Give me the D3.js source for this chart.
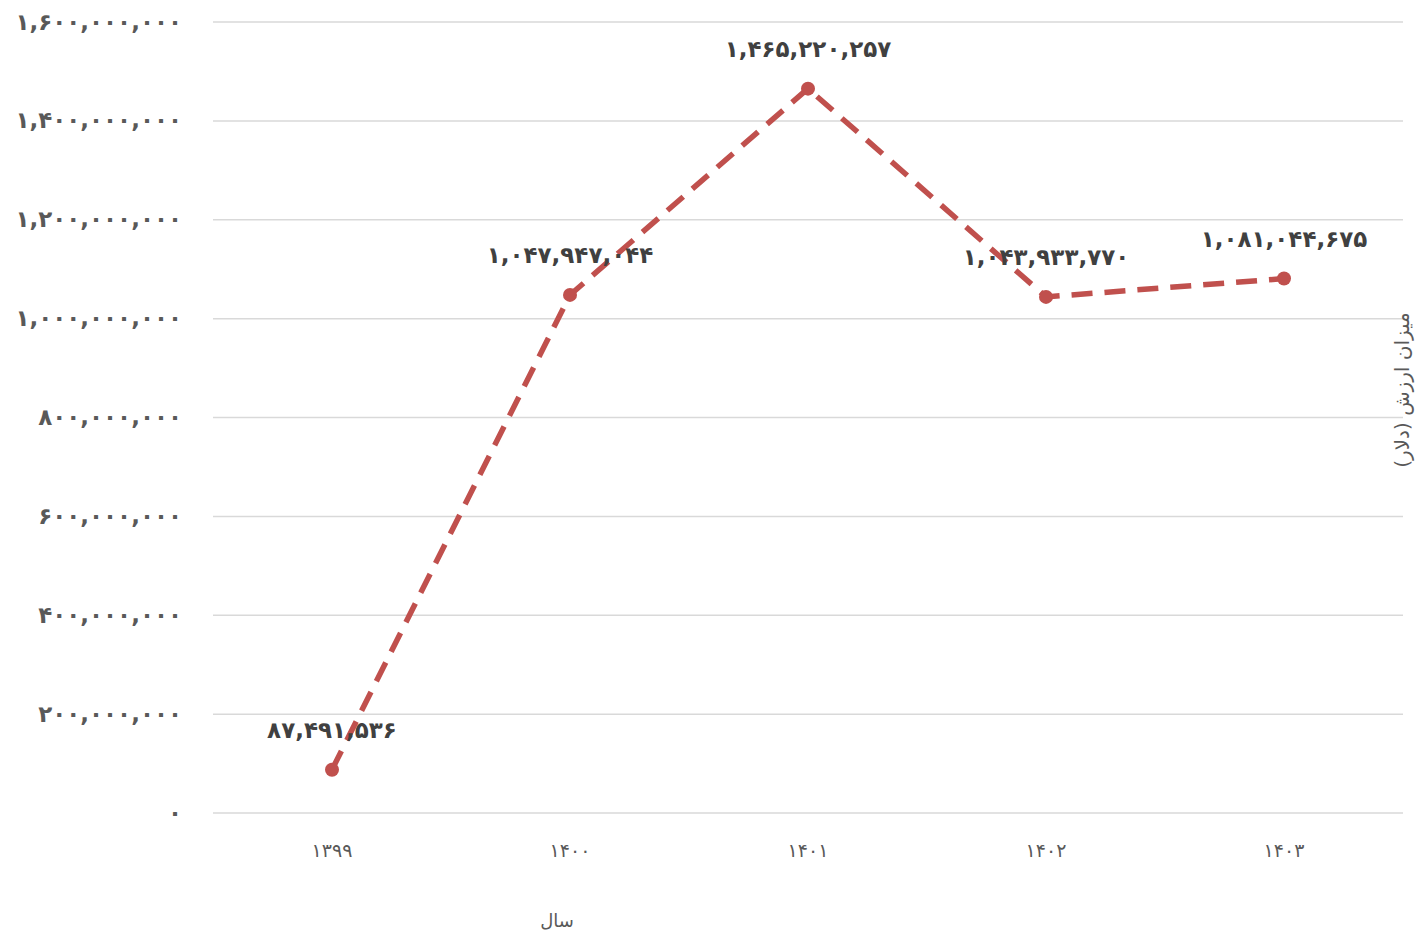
<!DOCTYPE html>
<html><head><meta charset="utf-8">
<script src="https://cdn.jsdelivr.net/npm/d3@7"></script>
<style>
html,body{margin:0;padding:0;background:#fff;}
svg{display:block;font-family:"DejaVu Sans",sans-serif;}
</style></head>
<body>
<svg id="chart" width="1415" height="937"></svg>
<script>
const years = ["1399","1400","1401","1402","1403"];
const values = [87491536, 1047947044, 1465220257, 1043933770, 1081044675];
const yTicks = [0, 200000000, 400000000, 600000000, 800000000, 1000000000, 1200000000, 1400000000, 1600000000];
const xTitle = "سال";
const yTitle = "میزان ارزش (دلار)";

(function(){
const fa = s => String(s).replace(/[0-9]/g, d => "۰۱۲۳۴۵۶۷۸۹"[+d]);
const fmt = v => fa(d3.format(",")(v));

const svg = d3.select("#chart");
const pL = 213, pR = 1403, pT = 22, pB = 813;
const x = d3.scalePoint().domain(years).range([pL, pR]).padding(0.5);
const y = d3.scaleLinear().domain([0, 1600000000]).range([pB, pT]);

svg.append("g").selectAll("line").data(yTicks).join("line")
  .attr("x1", pL).attr("x2", pR)
  .attr("y1", d => y(d)).attr("y2", d => y(d))
  .attr("stroke", "#d9d9d9").attr("stroke-width", 1.5);

svg.append("g").selectAll("text").data(yTicks).join("text")
  .attr("x", 182).attr("y", d => y(d)).attr("dy", "0.33em")
  .attr("text-anchor", "end")
  .attr("fill", "#595959").attr("font-size", 23).attr("font-weight", "bold")
  .text(d => fmt(d));

svg.append("g").selectAll("text").data(years).join("text")
  .attr("x", d => x(d)).attr("y", 850).attr("dy", "0.35em")
  .attr("text-anchor", "middle")
  .attr("fill", "#595959").attr("font-size", 19)
  .text(d => fa(d));

svg.append("text").attr("x", 557).attr("y", 921).attr("dy", "0.35em")
  .attr("text-anchor", "middle").attr("fill", "#595959").attr("font-size", 18)
  .text(xTitle);
svg.append("text")
  .attr("transform", `translate(1402,390) rotate(-90)`)
  .attr("text-anchor", "middle").attr("dy", "0.35em")
  .attr("fill", "#595959").attr("font-size", 20)
  .text(yTitle);

const data = years.map((yr, i) => ({yr, v: values[i]}));
const line = d3.line().x(d => x(d.yr)).y(d => y(d.v));
svg.append("path").datum(data).attr("d", line)
  .attr("fill", "none").attr("stroke", "#c0504d").attr("stroke-width", 5.5)
  .attr("stroke-dasharray", "21,12");

svg.append("g").selectAll("circle").data(data).join("circle")
  .attr("cx", d => x(d.yr)).attr("cy", d => y(d.v)).attr("r", 7)
  .attr("fill", "#c0504d");

svg.append("g").selectAll("text").data(data).join("text")
  .attr("x", d => x(d.yr)).attr("y", d => y(d.v) - 40).attr("dy", "0.35em")
  .attr("text-anchor", "middle")
  .attr("fill", "#404040").attr("font-size", 23).attr("font-weight", "bold")
  .text(d => fmt(d.v));
})();
</script>
</body></html>
